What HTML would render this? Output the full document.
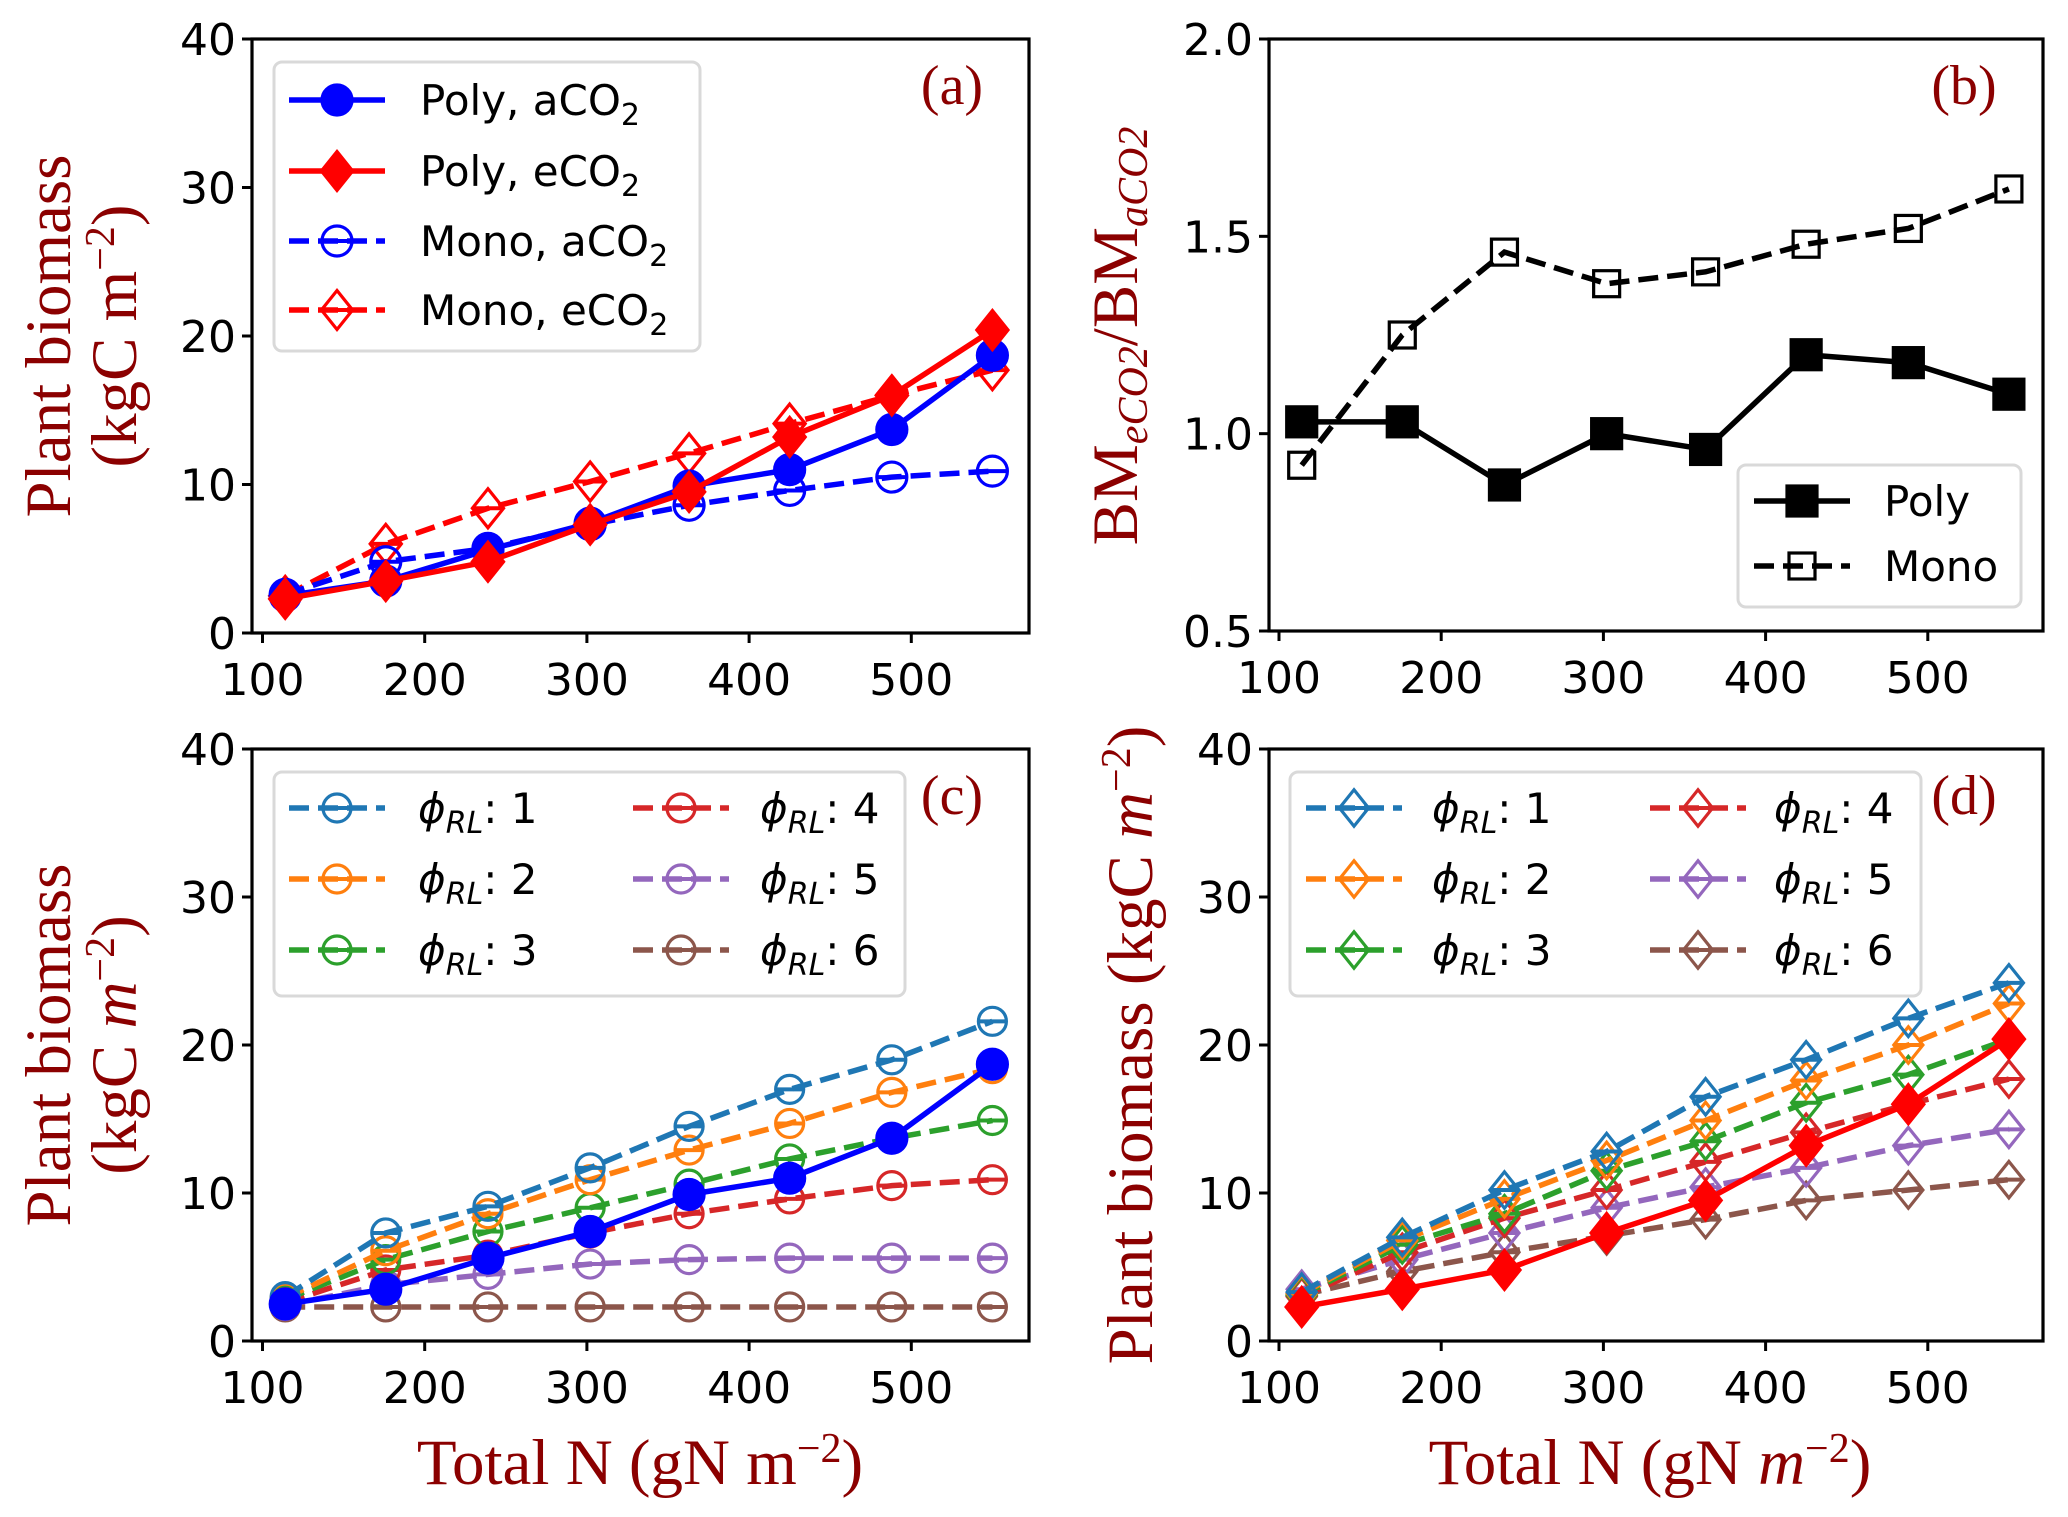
<!DOCTYPE html>
<html><head><meta charset="utf-8"><style>
html,body{margin:0;padding:0;background:#fff}
svg{display:block}
.tk{font-family:"DejaVu Sans","Liberation Sans",sans-serif;font-size:44px;fill:#000}
.lg{font-family:"DejaVu Sans","Liberation Sans",sans-serif;font-size:42px;fill:#000}
.lab{font-family:"Liberation Serif","DejaVu Serif",serif;font-size:65px;fill:#8b0000}
.tag{font-family:"Liberation Serif","DejaVu Serif",serif;font-size:56px;fill:#8b0000}
</style></head><body>
<svg id="fig" width="2068" height="1517" viewBox="0 0 2068 1517" xmlns="http://www.w3.org/2000/svg">
<text class="lab" transform="translate(70,336) rotate(-90)" text-anchor="middle">Plant biomass</text>
<text class="lab" transform="translate(136,336) rotate(-90)" text-anchor="middle">(kgC m<tspan dy="-22" font-size="42">−2</tspan><tspan dy="22">)</tspan></text>
<text class="lab" transform="translate(70,1045) rotate(-90)" text-anchor="middle">Plant biomass</text>
<text class="lab" transform="translate(136,1045) rotate(-90)" text-anchor="middle">(kgC <tspan font-style="italic">m</tspan><tspan dy="-22" font-size="42">−2</tspan><tspan dy="22">)</tspan></text>
<text class="lab" transform="translate(1137,336) rotate(-90)" text-anchor="middle">BM<tspan dy="10" font-size="42" font-style="italic">eCO2</tspan><tspan dy="-10">/BM</tspan><tspan dy="10" font-size="42" font-style="italic">aCO2</tspan></text>
<text class="lab" transform="translate(1152,1045) rotate(-90)" text-anchor="middle">Plant biomass (kgC <tspan font-style="italic">m</tspan><tspan dy="-22" font-size="42">−2</tspan><tspan dy="22">)</tspan></text>
<text class="lab" x="640" y="1484" text-anchor="middle">Total N (gN m<tspan dy="-22" font-size="42">−2</tspan><tspan dy="22">)</tspan></text>
<text class="lab" x="1650" y="1484" text-anchor="middle">Total N (gN <tspan font-style="italic">m</tspan><tspan dy="-22" font-size="42">−2</tspan><tspan dy="22">)</tspan></text>
</svg>
<script>
const xVals=[114,176,239,302,363,425,488,550];
const polyA=[2.5,3.5,5.6,7.4,9.9,11.0,13.7,18.7];
const polyE=[2.3,3.5,4.8,7.3,9.5,13.2,16.0,20.4];
const monoA=[2.6,4.8,5.7,7.3,8.6,9.6,10.5,10.9];
const monoE=[2.5,6.0,8.4,10.2,12.1,14.1,16.0,17.7];
const ratioPoly=[1.03,1.03,0.87,1.00,0.96,1.20,1.18,1.10];
const ratioMono=[0.92,1.25,1.46,1.38,1.41,1.48,1.52,1.62];
const cPhi1=[3.0,7.3,9.1,11.7,14.5,17.0,19.0,21.6];
const cPhi2=[2.9,6.1,8.6,10.9,12.9,14.7,16.8,18.4];
const cPhi3=[2.8,5.5,7.4,9.0,10.6,12.3,13.7,14.9];
const cPhi4=[2.6,4.8,5.8,7.3,8.6,9.6,10.5,10.9];
const cPhi5=[2.4,3.8,4.5,5.2,5.5,5.6,5.6,5.6];
const cPhi6=[2.3,2.3,2.3,2.3,2.3,2.3,2.3,2.3];
const dPhi1=[3.3,7.0,10.2,12.8,16.5,19.0,21.8,24.2];
const dPhi2=[3.2,6.8,9.6,12.2,14.9,17.6,20.0,22.8];
const dPhi3=[3.1,6.5,8.6,11.5,13.5,16.1,18.0,20.4];
const dPhi4=[3.0,6.0,8.3,10.2,12.1,14.1,16.0,17.7];
const dPhi5=[3.5,5.5,7.3,9.0,10.4,11.7,13.2,14.3];
const dPhi6=[3.1,4.7,6.0,7.1,8.2,9.5,10.2,10.9];
const xTicks=[100,200,300,400,500];
const yTicksBio=[0,10,20,30,40];
const yTicksRatio=[0.5,1.0,1.5,2.0];
const yTickLabelsRatio=["0.5","1.0","1.5","2.0"];

const NS="http://www.w3.org/2000/svg";
const svg=document.getElementById('fig');
function mk(tag,attrs,parent){const e=document.createElementNS(NS,tag);for(const k in attrs)e.setAttribute(k,attrs[k]);(parent||svg).appendChild(e);return e;}
const tab=['#1f77b4','#ff7f0e','#2ca02c','#d62728','#9467bd','#8c564b'];
const LW=5.5;

function makeAxes(id,L,R,T,B,x0,ymin,ymax,yt,ytl){
  const g=mk('g',{});
  
  
  const ax={L,R,T,B,g,
    x:v=>x0+(v-100)*1.622,
    y:v=>B-(v-ymin)/(ymax-ymin)*(B-T)};
  xTicks.forEach(t=>{const X=ax.x(t);
    const l=mk('line',{x1:X,x2:X,y1:B,y2:B+10,stroke:'#000','stroke-width':3},g);
    
    const tx=mk('text',{x:X,y:B+62,'text-anchor':'middle',class:'tk'},g);tx.textContent=t;
    });
  yt.forEach((t,i)=>{const Y=ax.y(t);
    const l=mk('line',{x1:L-10,x2:L,y1:Y,y2:Y,stroke:'#000','stroke-width':3},g);
    
    const tx=mk('text',{x:L-16,y:Y+16,'text-anchor':'end',class:'tk'},g);tx.textContent=ytl?ytl[i]:t;
    });
  return ax;
}
function frame(ax){const r=mk('rect',{x:ax.L,y:ax.T,width:ax.R-ax.L,height:ax.B-ax.T,fill:'none',stroke:'#000','stroke-width':3.2},ax.g);
  }
function marker(g,type,cx,cy,color,filled,s){
  let e;const f=filled?color:'none';const sw=3.2;
  if(type==='o'){e=mk('circle',{cx,cy,r:s,fill:f,stroke:color,'stroke-width':sw},g);}
  else if(type==='D'){const r=s*1.3;e=mk('polygon',{points:`${cx},${cy-r} ${cx+r*0.8},${cy} ${cx},${cy+r} ${cx-r*0.8},${cy}`,fill:f,stroke:color,'stroke-width':sw},g);}
  else {e=mk('rect',{x:cx-s,y:cy-s,width:2*s,height:2*s,fill:f,stroke:color,'stroke-width':sw},g);}
  return e;
}
function series(ax,name,vals,color,dash,type,filled,s){
  const g=mk('g',{},ax.g);
  
  
  const pts=vals.map((v,i)=>ax.x(xVals[i])+','+ax.y(v)).join(' ');
  const pl=mk('polyline',{points:pts,fill:'none',stroke:color,'stroke-width':LW,'stroke-dasharray':dash?'20,9':'none'},g);
  
  vals.forEach((v,i)=>{const m=marker(g,type,ax.x(xVals[i]),ax.y(v),color,filled,s);
    if(!filled&&type!=='s'){mk('line',{x1:ax.x(xVals[i])-s,x2:ax.x(xVals[i])+s,y1:ax.y(v),y2:ax.y(v),stroke:color,'stroke-width':4},g);}
    });
}
function legendBox(g,x,y,w,h){const r=mk('rect',{x,y,width:w,height:h,rx:8,fill:'#fff','fill-opacity':0.85,stroke:'#d9d9d9','stroke-width':3},g);
  }
function legendEntry(g,x,y,color,dash,type,filled,s,label,tx){
  const e=mk('g',{},g);
  
  
  mk('line',{x1:x,x2:x+96,y1:y,y2:y,stroke:color,'stroke-width':LW,'stroke-dasharray':dash?'20,9':'none'},e);
  marker(e,type,x+48,y,color,filled,s);
  if(!filled&&type!=='s'){mk('line',{x1:x+48-s,x2:x+48+s,y1:y,y2:y,stroke:color,'stroke-width':4},e);}
  const t=mk('text',{x:tx,y:y+15,class:'lg'},e);t.innerHTML=label;
}
function tag(ax,txt,x,y){const t=mk('text',{x,y,class:'tag','text-anchor':'middle'},ax.g);t.textContent=txt;
  }

// Panel a
const a=makeAxes('a',252,1029,39,633,262.5,0,40,yTicksBio);
series(a,'mono-eco2',monoE,'#ff0000',true,'D',false,15);
series(a,'mono-aco2',monoA,'#0000ff',true,'o',false,15);
series(a,'poly-aco2',polyA,'#0000ff',false,'o',true,15);
series(a,'poly-eco2',polyE,'#ff0000',false,'D',true,15);
frame(a);
legendBox(a.g,274,62,426,289);
const sub=t=>t+'<tspan dy="10" font-size="30">2</tspan>';
legendEntry(a.g,289,100,'#0000ff',false,'o',true,15,sub('Poly, aCO'),420);
legendEntry(a.g,289,171,'#ff0000',false,'D',true,15,sub('Poly, eCO'),420);
legendEntry(a.g,289,241,'#0000ff',true,'o',false,15,sub('Mono, aCO'),420);
legendEntry(a.g,289,310,'#ff0000',true,'D',false,15,sub('Mono, eCO'),420);
tag(a,'(a)',952,104);

// Panel b
const b=makeAxes('b',1269,2043,39,631,1279,0.5,2.0,yTicksRatio,yTickLabelsRatio);
series(b,'ratio-mono',ratioMono,'#000',true,'s',false,13);
series(b,'ratio-poly',ratioPoly,'#000',false,'s',true,15);
frame(b);
legendBox(b.g,1738,465,283,142);
legendEntry(b.g,1754,501,'#000',false,'s',true,15,'Poly',1884);
legendEntry(b.g,1754,566,'#000',true,'s',false,13,'Mono',1884);
tag(b,'(b)',1964,104);

// Panel c
const phiLbl=n=>'<tspan font-style="italic">ϕ</tspan><tspan dy="10" font-size="30" font-style="italic">RL</tspan><tspan dy="-10">: '+n+'</tspan>';
const c=makeAxes('c',252,1029,749,1341,262.5,0,40,yTicksBio);
[cPhi6,cPhi5,cPhi4,cPhi3,cPhi2,cPhi1].forEach((d,i)=>series(c,'c-phi-'+(6-i),d,tab[5-i],true,'o',false,14));
series(c,'c-poly-aco2',polyA,'#0000ff',false,'o',true,15);
frame(c);
legendBox(c.g,274,772,631,224);
[0,1,2].forEach(i=>legendEntry(c.g,289,808+i*71,tab[i],true,'o',false,14,phiLbl(i+1),418));
[0,1,2].forEach(i=>legendEntry(c.g,633,808+i*71,tab[i+3],true,'o',false,14,phiLbl(i+4),760));
tag(c,'(c)',952,814);

// Panel d
const d=makeAxes('d',1269,2043,749,1341,1279,0,40,yTicksBio);
[dPhi6,dPhi5,dPhi4,dPhi3,dPhi2,dPhi1].forEach((v,i)=>series(d,'d-phi-'+(6-i),v,tab[5-i],true,'D',false,14));
series(d,'d-poly-eco2',polyE,'#ff0000',false,'D',true,15);
frame(d);
legendBox(d.g,1290,772,631,224);
[0,1,2].forEach(i=>legendEntry(d.g,1306,808+i*71,tab[i],true,'D',false,14,phiLbl(i+1),1432));
[0,1,2].forEach(i=>legendEntry(d.g,1650,808+i*71,tab[i+3],true,'D',false,14,phiLbl(i+4),1774));
tag(d,'(d)',1964,814);
</script>
</body></html>
